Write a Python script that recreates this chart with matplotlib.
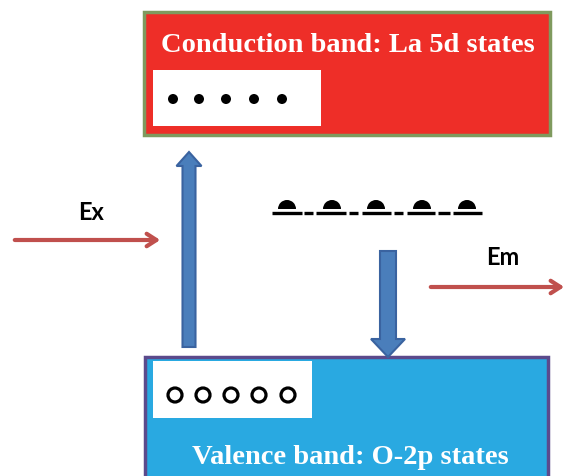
import matplotlib
matplotlib.use("Agg")
import matplotlib.pyplot as plt
from matplotlib.patches import Rectangle, FancyArrow, Circle, Wedge

# diagram content
top_label = "Conduction band: La 5d states"
bottom_label = "Valence band: O-2p states"
ex_label = "Ex"
em_label = "Em"
electrons_x = [173, 199, 226, 254, 282]
holes_x = [175, 203, 231, 259, 288]
traps_x = [287, 332, 376, 422, 467]
trap_segments = [(272, 302), (304, 313), (316, 346), (349, 358), (362, 391),
                 (394, 403), (407, 435), (438, 450), (453, 482)]

fig = plt.figure(figsize=(5.69, 4.77), dpi=100)
ax = fig.add_axes([0, 0, 1, 1])
ax.set_xlim(0, 569)
ax.set_ylim(477, 0)
ax.axis("off")

serif = "Liberation Serif"
sans = "Lato"

# conduction band
ax.add_patch(Rectangle((144, 13), 406, 123, facecolor="#ee2e28", edgecolor="#7f9a5e", lw=2.5))
ax.text(348, 46, top_label, color="white", fontsize=20.5, fontweight="bold",
        family=serif, ha="center", va="center")
ax.add_patch(Rectangle((153, 71), 168, 56, facecolor="white", edgecolor="none"))
for x in electrons_x:
    ax.add_patch(Circle((x, 100), 5, facecolor="black", edgecolor="none"))

# valence band
ax.add_patch(Rectangle((145, 358), 403, 130, facecolor="#29a9e1", edgecolor="#5b4a8c", lw=2.5))
ax.add_patch(Rectangle((153, 362), 159, 57, facecolor="white", edgecolor="none"))
for x in holes_x:
    ax.add_patch(Circle((x, 396), 7, facecolor="none", edgecolor="black", lw=2.3))
ax.text(350, 458, bottom_label, color="white", fontsize=20.5, fontweight="bold",
        family=serif, ha="center", va="center")

# trap levels
for x0, x1 in trap_segments:
    ax.plot([x0, x1], [214, 214], color="black", lw=2.4, solid_capstyle="butt")
for x in traps_x:
    ax.add_patch(Wedge((x, 210), 9, 180, 360, facecolor="black", edgecolor="none"))

# excitation (up) and relaxation (down) block arrows
ax.add_patch(FancyArrow(189, 348, 0, -195, width=13, head_width=25, head_length=14,
                        length_includes_head=True, facecolor="#4a7ebb", edgecolor="#3a63a0", lw=1.5))
ax.add_patch(FancyArrow(388, 252, 0, 106, width=16, head_width=34, head_length=18,
                        length_includes_head=True, facecolor="#4a7ebb", edgecolor="#3a63a0", lw=1.5))

# Ex / Em arrows
ax.annotate("", xy=(163, 241), xytext=(12, 241),
            arrowprops=dict(arrowstyle="->,head_length=0.7,head_width=0.45", color="#c0504d", lw=3))
ax.text(91, 213, ex_label, fontsize=17, fontweight="bold", family=sans, ha="center", va="center")
ax.annotate("", xy=(567, 288), xytext=(428, 288),
            arrowprops=dict(arrowstyle="->,head_length=0.7,head_width=0.45", color="#c0504d", lw=3))
ax.text(503, 258, em_label, fontsize=17, fontweight="bold", family=sans, ha="center", va="center")

fig.savefig("out.png", dpi=100)
